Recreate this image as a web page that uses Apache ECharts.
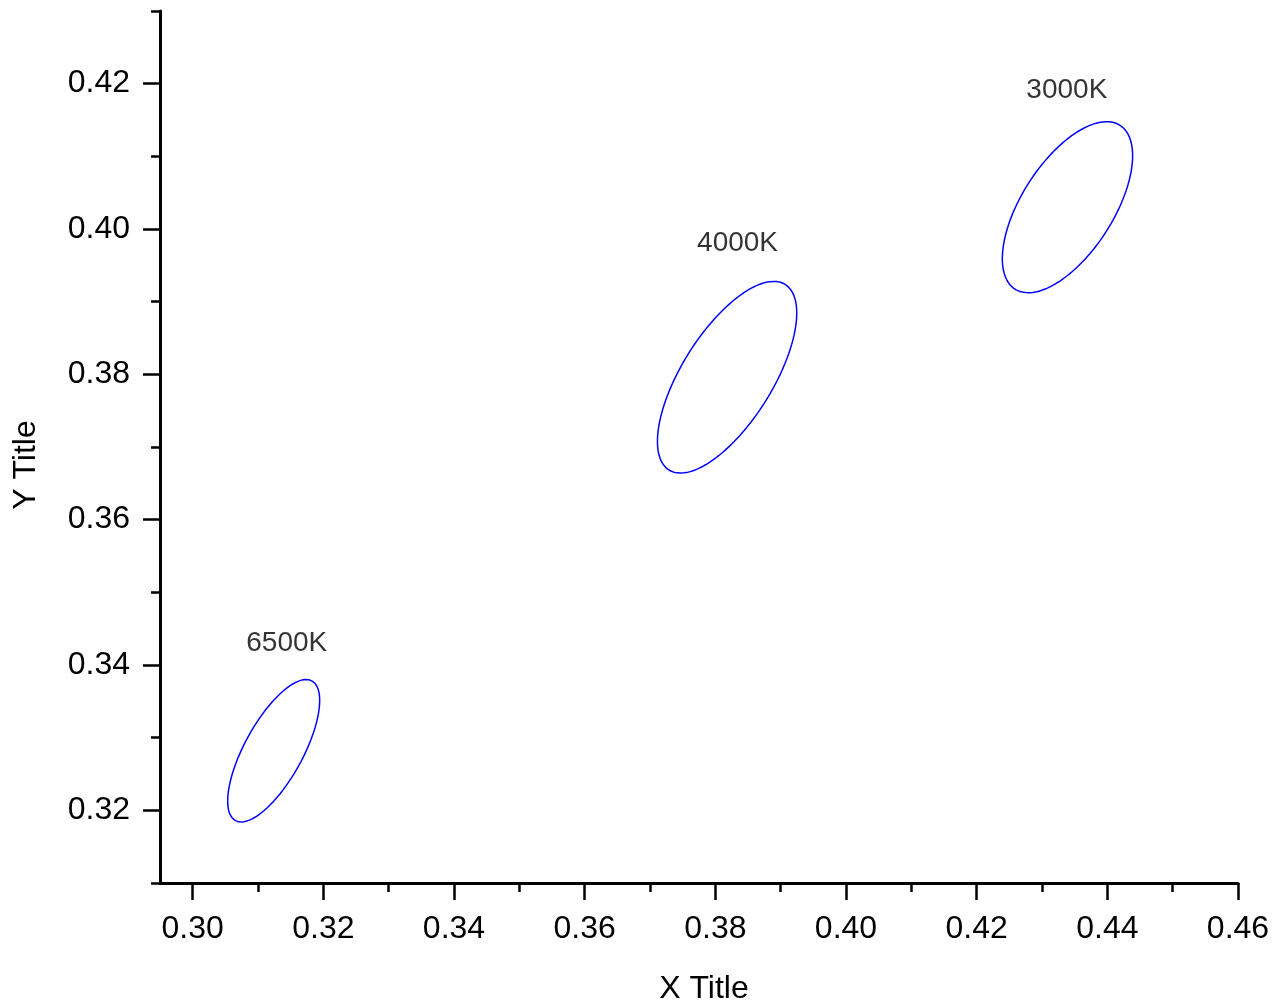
<!DOCTYPE html>
<html>
<head>
<meta charset="utf-8">
<script src="https://cdn.jsdelivr.net/npm/echarts@6/dist/echarts.min.js"></script>
<style>
html,body{margin:0;padding:0;background:#fff;}
#chart{width:1282px;height:1003px;}
</style>
</head>
<body>
<div id="chart"></div>
<script>
// ---- data ----
const ellipseNames = ['6500K', '4000K', '3000K'];
// ellipse centres (CIE x, y)
const ellipseCx = [0.3124, 0.3818, 0.4339];
const ellipseCy = [0.3282, 0.3796, 0.4030];
// half width (x) and half height (y) of each ellipse, and x offset of its top point
const ellipseRx = [0.00704, 0.01066, 0.00997];
const ellipseRy = [0.00980, 0.01319, 0.01177];
const ellipseTopDx = [0.00497, 0.00714, 0.00600];
// annotation positions
const labelX = [0.3144, 0.3834, 0.4338];
const labelY = [0.3430, 0.3980, 0.4191];
// axis ticks
const xMajorTicks = [0.30, 0.32, 0.34, 0.36, 0.38, 0.40, 0.42, 0.44, 0.46];
const xMinorTicks = [0.31, 0.33, 0.35, 0.37, 0.39, 0.41, 0.43, 0.45];
const yMajorTicks = [0.32, 0.34, 0.36, 0.38, 0.40, 0.42];
const yMinorTicks = [0.31, 0.33, 0.35, 0.37, 0.39, 0.41, 0.43];

function ellipsePoints(i) {
  const pts = [];
  const psi = Math.asin(Math.min(1, ellipseTopDx[i] / ellipseRx[i]));
  const n = 180;
  for (let k = 0; k <= n; k++) {
    const t = 2 * Math.PI * k / n;
    pts.push([ellipseCx[i] + ellipseRx[i] * Math.cos(t),
              ellipseCy[i] + ellipseRy[i] * Math.sin(t + psi)]);
  }
  return pts;
}

const FONT = 'Arial, "Liberation Sans", sans-serif';
const chart = echarts.init(document.getElementById('chart'), null, {renderer: 'canvas'});

const series = ellipseNames.map((name, i) => ({
  type: 'line',
  name: name,
  data: ellipsePoints(i),
  showSymbol: false,
  symbol: 'none',
  smooth: false,
  lineStyle: {color: '#0000ff', width: 1.5},
  animation: false,
  z: 3
}));
series.push({
  type: 'scatter',
  symbolSize: 0,
  data: ellipseNames.map((n, i) => ({value: [labelX[i], labelY[i]], name: n})),
  label: {
    show: true, position: 'inside', formatter: p => p.name,
    fontFamily: FONT, fontSize: 28, color: '#000'
  },
  animation: false,
  silent: true
});

const fmt = v => Number(v).toFixed(2);

chart.setOption({
  backgroundColor: '#ffffff',
  animation: false,
  grid: {left: 160, right: 44, top: 11, bottom: 120, outerBoundsMode: 'none', containLabel: false},
  xAxis: [{
    type: 'value', min: 0.295, max: 0.46,
    name: 'X Title', nameLocation: 'middle', nameGap: 90,
    nameTextStyle: {fontFamily: FONT, fontSize: 32, color: '#000', padding: [0, 0, 0, 10]},
    axisLine: {show: true, lineStyle: {color: '#000', width: 3}},
    axisTick: {show: true, customValues: xMajorTicks, length: 17, lineStyle: {color: '#000', width: 2.5}},
    axisLabel: {show: true, customValues: xMajorTicks, formatter: fmt, fontFamily: FONT, fontSize: 32, color: '#000', margin: 30},
    splitLine: {show: false}
  }, {
    type: 'value', min: 0.295, max: 0.46, position: 'bottom',
    axisLine: {show: false},
    axisTick: {show: true, customValues: xMinorTicks, length: 9, lineStyle: {color: '#000', width: 2.5}},
    axisLabel: {show: false},
    splitLine: {show: false}
  }],
  yAxis: [{
    type: 'value', min: 0.31, max: 0.43,
    name: 'Y Title', nameLocation: 'middle', nameGap: 118,
    nameTextStyle: {fontFamily: FONT, fontSize: 32, color: '#000', padding: [0, 36, 0, 0]},
    axisLine: {show: true, lineStyle: {color: '#000', width: 3}},
    axisTick: {show: true, customValues: yMajorTicks, length: 17, lineStyle: {color: '#000', width: 2.5}},
    axisLabel: {show: true, customValues: yMajorTicks, formatter: fmt, fontFamily: FONT, fontSize: 32, color: '#000', margin: 30},
    splitLine: {show: false}
  }, {
    type: 'value', min: 0.31, max: 0.43, position: 'left',
    axisLine: {show: false},
    axisTick: {show: true, customValues: yMinorTicks, length: 9, lineStyle: {color: '#000', width: 2.5}},
    axisLabel: {show: false},
    splitLine: {show: false}
  }],
  series: series
});
</script>
</body>
</html>
